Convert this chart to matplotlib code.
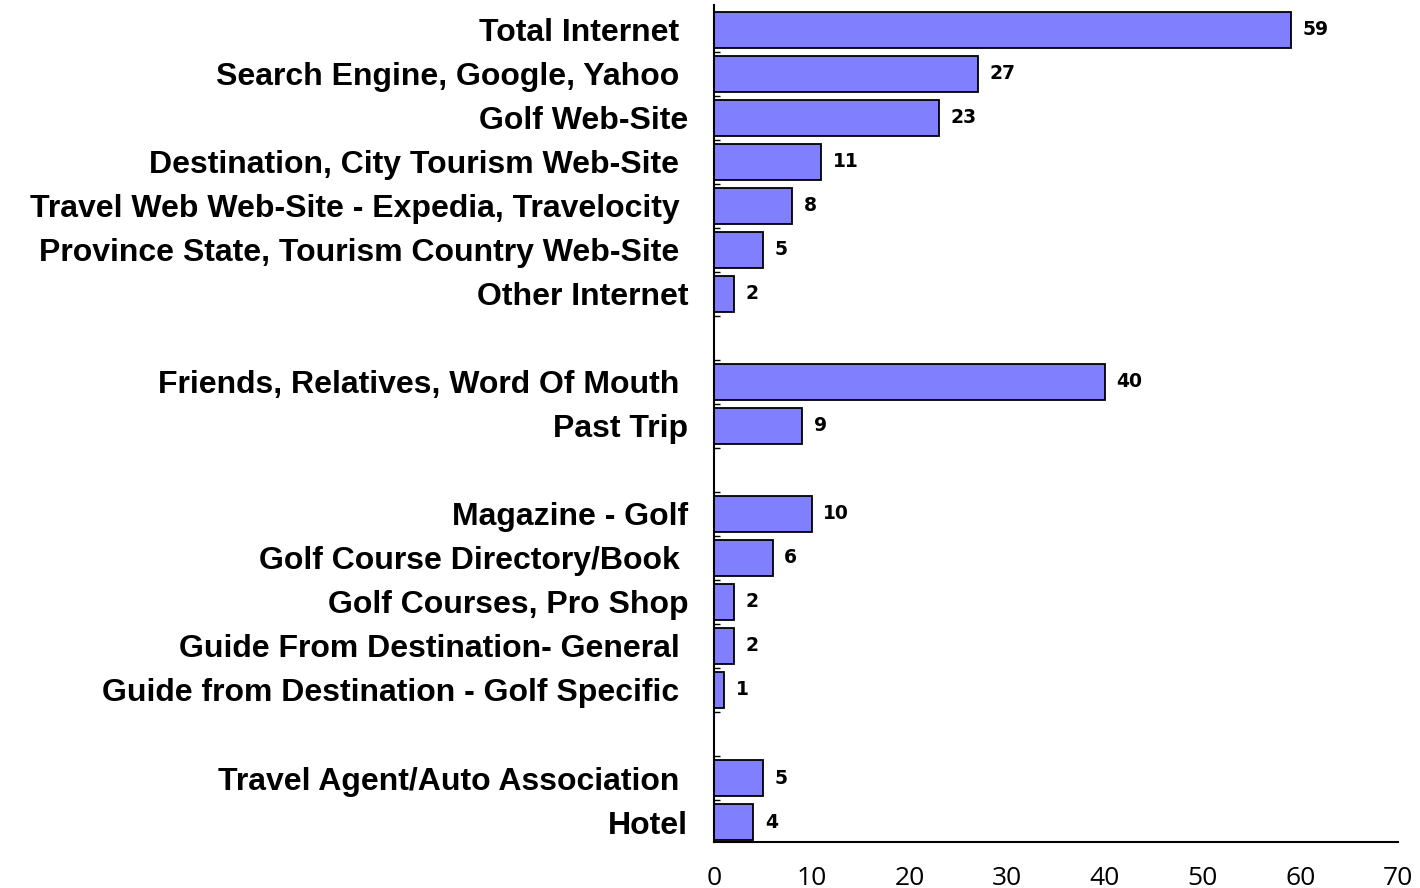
import matplotlib
matplotlib.use("Agg")
import matplotlib.pyplot as plt
import numpy as np

categories = [
    "Total Internet ", "Search Engine, Google, Yahoo ", "Golf Web-Site",
    "Destination, City Tourism Web-Site ", "Travel Web Web-Site - Expedia, Travelocity ",
    "Province State, Tourism Country Web-Site ", "Other Internet", "",
    "Friends, Relatives, Word Of Mouth ", "Past Trip", "",
    "Magazine - Golf", "Golf Course Directory/Book ", "Golf Courses, Pro Shop",
    "Guide From Destination- General ", "Guide from Destination - Golf Specific ", "",
    "Travel Agent/Auto Association ", "Hotel",
]
values = [59, 27, 23, 11, 8, 5, 2, None, 40, 9, None, 10, 6, 2, 2, 1, None, 5, 4]
xticks = [0, 10, 20, 30, 40, 50, 60, 70]

fig = plt.figure(figsize=(14.2, 8.88), dpi=100)
ax = fig.add_axes([0.5028, 0.0518, 0.9845 - 0.5028, 0.9944 - 0.0518])

pos = np.arange(len(categories))
for p, v in zip(pos, values):
    if v is None:
        continue
    ax.barh(p, v, height=0.8, color="#8080FF", edgecolor="black", linewidth=1.3)
    ax.text(v + 1.2, p, str(v), va="center", ha="left", fontsize=13.5,
            fontweight="bold", family="DejaVu Sans")

ax.set_xlim(0, 70)
ax.set_ylim(18.4545, -0.568)
ax.set_yticks(pos)
ax.set_yticklabels(categories, fontsize=23, fontweight="bold", family="Liberation Sans")
ax.set_yticks(pos[:-1] + 0.5, minor=True)
ax.tick_params(axis="y", which="major", length=0, pad=18.5)
ax.tick_params(axis="y", which="minor", length=4, direction="in", width=1)
ax.set_xticks(xticks)
ax.set_xticklabels([str(t) for t in xticks], fontsize=19, family="Open Sans")
ax.tick_params(axis="x", length=0, pad=17)

for s in ["top", "right"]:
    ax.spines[s].set_visible(False)
for s in ["left", "bottom"]:
    ax.spines[s].set_linewidth(1.5)

fig.savefig("out.png", dpi=100)
